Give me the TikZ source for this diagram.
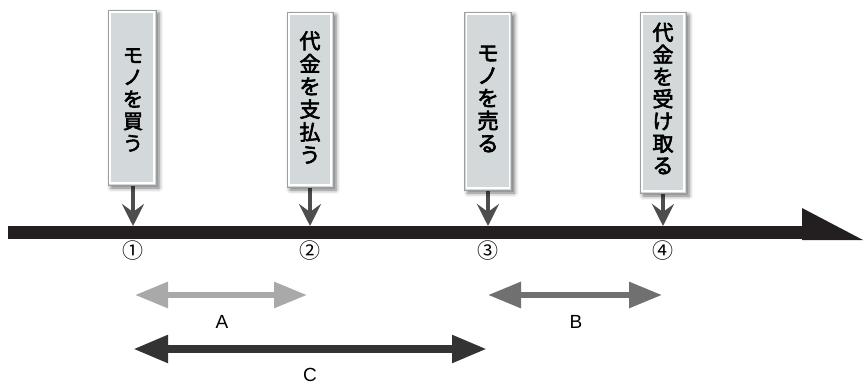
\documentclass[tikz,border=0pt]{standalone}
\usepackage{fontspec}
\setmainfont{Liberation Sans}
\newfontfamily\cjk[FakeBold=3]{Noto Sans CJK JP}
\newfontfamily\cjkn{Noto Sans CJK JP}
\usetikzlibrary{arrows.meta,shadows.blur}
\definecolor{tlcol}{HTML}{231F20}
\definecolor{boxfill}{HTML}{D3D9DA}
\definecolor{boxedge}{HTML}{9A9FA0}
\definecolor{colA}{HTML}{A9A9A9}
\definecolor{colB}{HTML}{707070}
\definecolor{colC}{HTML}{333333}
\definecolor{downcol}{HTML}{4D4D4D}
\tikzset{
  tag/.style={draw=boxedge, line width=0.8pt, fill=boxfill, inner sep=0pt, align=center,
    blur shadow={shadow xshift=3pt, shadow yshift=-3pt, shadow blur radius=4pt, shadow opacity=55}},
  taginner/.style={draw=white, line width=1.5pt, inner sep=0pt},
  down/.style={draw=downcol, line width=4pt, -{Stealth[length=22pt,width=22pt,inset=8pt]}},
  num/.style={font=\cjkn\fontsize{21}{21}\selectfont, inner sep=0pt},
  lab/.style={font=\fontsize{19}{19}\selectfont, inner sep=0pt},
  dblA/.style={draw=colA, line width=6pt, {Triangle[length=33pt,width=25pt]}-{Triangle[length=33pt,width=25pt]}},
  dblB/.style={draw=colB, line width=6pt, {Triangle[length=33pt,width=25pt]}-{Triangle[length=33pt,width=25pt]}},
  dblC/.style={draw=colC, line width=8pt, {Triangle[length=35pt,width=26pt]}-{Triangle[length=35pt,width=26pt]}},
}
\begin{document}
\begin{tikzpicture}[x=1pt,y=-1pt]
\useasboundingbox (0,0) rectangle (865,385);
% timeline
\coordinate (tl0) at (8,226);
\coordinate (tl1) at (863,240);
\fill[tlcol] (8,226) rectangle (803,239);
\fill[tlcol] (802,208) -- (863,240) -- (802,240) -- cycle;
% down-arrow targets
\coordinate (p1) at (133,226);
\coordinate (p2) at (310,226);
\coordinate (p3) at (488,226);
\coordinate (p4) at (663,226);
% down arrows (behind boxes)
\coordinate (s1) at (133,175);
\coordinate (s2) at (310,177);
\coordinate (s3) at (488,180);
\coordinate (s4) at (663,183);
\draw[down] (s1) -- (p1);
\draw[down] (s2) -- (p2);
\draw[down] (s3) -- (p3);
\draw[down] (s4) -- (p4);
% boxes
\node[tag, minimum width=48pt, minimum height=175pt] (b1) at (132,97.5) {};
\node[tag, minimum width=46pt, minimum height=175pt] (b2) at (310,99.5) {};
\node[tag, minimum width=47pt, minimum height=178pt] (b3) at (488,101) {};
\node[tag, minimum width=46pt, minimum height=181pt] (b4) at (663,102.5) {};
\node[taginner, minimum width=44pt, minimum height=171pt] at (b1.center) {};
\node[taginner, minimum width=42pt, minimum height=171pt] at (b2.center) {};
\node[taginner, minimum width=43pt, minimum height=174pt] at (b3.center) {};
\node[taginner, minimum width=42pt, minimum height=177pt] at (b4.center) {};
\node[align=center, inner sep=0pt, font=\cjk\fontsize{20}{22}\selectfont] (t1) at (133,100) {モ\\ノ\\を\\買\\う};
\node[align=center, inner sep=0pt, font=\cjk\fontsize{21}{22.8}\selectfont] (t2) at (310,97.5) {代\\金\\を\\支\\払\\う};
\node[align=center, inner sep=0pt, font=\cjk\fontsize{21.5}{22.6}\selectfont] (t3) at (488,99) {モ\\ノ\\を\\売\\る};
\node[align=center, inner sep=0pt, font=\cjk\fontsize{21}{22.2}\selectfont] (t4) at (663,98.5) {代\\金\\を\\受\\け\\取\\る};
% numbers
\node[num] (n1) at (133,251) {①};
\node[num] (n2) at (310,251) {②};
\node[num] (n3) at (488,251) {③};
\node[num] (n4) at (663,251) {④};
% range arrows
\coordinate (a0) at (135,295);
\coordinate (a1) at (307,295);
\coordinate (bb0) at (488,295);
\coordinate (bb1) at (662,295);
\coordinate (c0) at (133,349);
\coordinate (c1) at (487,349);
\draw[dblA] (a0) -- (a1);
\draw[dblB] (bb0) -- (bb1);
\draw[dblC] (c0) -- (c1);
\node[lab] (lA) at (222,322) {A};
\node[lab] (lB) at (576,322) {B};
\node[lab] (lC) at (310,375) {C};
\end{tikzpicture}
\end{document}
